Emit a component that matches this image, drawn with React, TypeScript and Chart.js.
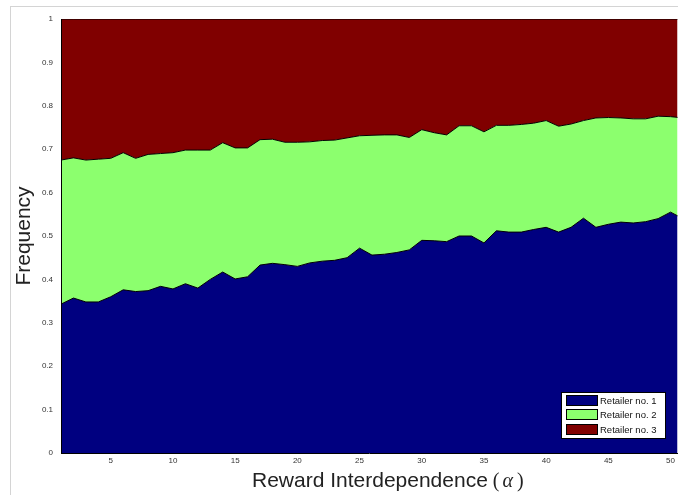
import React, { useEffect, useRef } from 'react';
import { Chart, registerables } from 'chart.js';

Chart.register(...registerables);

// Reward interdependence (alpha) values
const alphaValues = [
  1, 2, 3, 4, 5, 6, 7, 8, 9, 10,
  11, 12, 13, 14, 15, 16, 17, 18, 19, 20,
  21, 22, 23, 24, 25, 26, 27, 28, 29, 30,
  31, 32, 33, 34, 35, 36, 37, 38, 39, 40,
  41, 42, 43, 44, 45, 46, 47, 48, 49, 50, 51,
];

// Frequency of Retailer no. 1
const retailer1 = [
  0.343, 0.357, 0.348, 0.348, 0.36, 0.376, 0.372, 0.374, 0.384, 0.378,
  0.39, 0.38, 0.4, 0.417, 0.401, 0.406, 0.433, 0.437, 0.434, 0.43,
  0.438, 0.442, 0.444, 0.45, 0.472, 0.456, 0.458, 0.462, 0.468, 0.49,
  0.489, 0.487, 0.5, 0.5, 0.484, 0.512, 0.509, 0.509, 0.515, 0.52,
  0.509, 0.52, 0.541, 0.52, 0.527, 0.532, 0.53, 0.533, 0.54, 0.555, 0.54,
];

// Frequency of Retailer no. 2
const retailer2 = [
  0.332, 0.323, 0.327, 0.329, 0.319, 0.316, 0.307, 0.314, 0.306, 0.314,
  0.308, 0.318, 0.298, 0.298, 0.302, 0.297, 0.289, 0.286, 0.282, 0.286,
  0.279, 0.278, 0.277, 0.276, 0.259, 0.276, 0.275, 0.271, 0.259, 0.255,
  0.249, 0.246, 0.254, 0.254, 0.256, 0.243, 0.246, 0.248, 0.245, 0.246,
  0.244, 0.238, 0.225, 0.252, 0.246, 0.24, 0.24, 0.237, 0.236, 0.22, 0.232,
];

// Frequency of Retailer no. 3
const retailer3 = [
  0.325, 0.32, 0.325, 0.323, 0.321, 0.308, 0.321, 0.312, 0.31, 0.308,
  0.302, 0.302, 0.302, 0.285, 0.297, 0.297, 0.278, 0.277, 0.284, 0.284,
  0.283, 0.28, 0.279, 0.274, 0.269, 0.268, 0.267, 0.267, 0.273, 0.255,
  0.262, 0.267, 0.246, 0.246, 0.26, 0.245, 0.245, 0.243, 0.24, 0.234,
  0.247, 0.242, 0.234, 0.228, 0.227, 0.228, 0.23, 0.23, 0.224, 0.225, 0.228,
];

const seriesLabels = ['Retailer no. 1', 'Retailer no. 2', 'Retailer no. 3'];
const seriesColors = ['#000080', '#8cff6e', '#800000'];
const xTickValues = [5, 10, 15, 20, 25, 30, 35, 40, 45, 50];
const yTickLabels = ['0', '0.1', '0.2', '0.3', '0.4', '0.5', '0.6', '0.7', '0.8', '0.9', '1'];
const yTitle = 'Frequency';
const xTitle = 'Reward Interdependence';
const xTitleSymbol = 'α';

const SANS = '"Liberation Sans", Arial, Helvetica, sans-serif';

const boxLegend = {
  id: 'boxLegend',
  afterDraw(chart: any) {
    const { ctx, chartArea } = chart;
    const ds = chart.data.datasets;
    const w = 105;
    const rowH = 14.3;
    const h = 47;
    const x0 = Math.round(chartArea.right - 12 - w);
    const y0 = Math.round(chartArea.bottom - 14 - h);
    ctx.save();
    ctx.fillStyle = '#ffffff';
    ctx.fillRect(x0, y0, w, h);
    ctx.strokeStyle = '#000000';
    ctx.lineWidth = 1;
    ctx.strokeRect(x0 + 0.5, y0 + 0.5, w - 1, h - 1);
    ds.forEach((d: any, i: number) => {
      const sy = Math.round(y0 + 3 + i * rowH);
      ctx.fillStyle = d.backgroundColor;
      ctx.fillRect(x0 + 5, sy, 32, 11);
      ctx.strokeStyle = '#000000';
      ctx.strokeRect(x0 + 5.5, sy + 0.5, 31, 10);
      ctx.fillStyle = '#111111';
      ctx.font = '9.5px ' + SANS;
      ctx.textBaseline = 'middle';
      ctx.textAlign = 'left';
      ctx.fillText(d.label, x0 + 39, sy + 6);
    });
    ctx.restore();
  },
};

const xAxisTitle = {
  id: 'xAxisTitle',
  afterDraw(chart: any) {
    const { ctx, chartArea } = chart;
    const baseY = chartArea.bottom + 34;
    const startX = chartArea.left + 191;
    ctx.save();
    ctx.fillStyle = '#222222';
    ctx.textBaseline = 'alphabetic';
    ctx.textAlign = 'left';
    ctx.font = '21px ' + SANS;
    ctx.fillText(xTitle, startX, baseY);
    const w = ctx.measureText(xTitle).width;
    let x = startX + w + 5;
    ctx.font = '20px "Liberation Serif", "DejaVu Serif", serif';
    ctx.fillText('(', x, baseY);
    x += ctx.measureText('(').width + 3;
    ctx.font = 'italic 20px "Liberation Serif", "DejaVu Serif", serif';
    ctx.fillText(xTitleSymbol, x, baseY);
    x += ctx.measureText(xTitleSymbol).width + 4;
    ctx.font = '20px "Liberation Serif", "DejaVu Serif", serif';
    ctx.fillText(')', x, baseY);
    ctx.restore();
  },
};

export default function App() {
  const canvasRef = useRef<HTMLCanvasElement | null>(null);

  useEffect(() => {
    const canvas = canvasRef.current;
    if (!canvas) return;
    const series = [retailer1, retailer2, retailer3];
    const chart = new Chart(canvas, {
      type: 'line',
      data: {
        datasets: series.map((values, i) => ({
          label: seriesLabels[i],
          data: values.map((v, j) => ({ x: alphaValues[j], y: v })),
          backgroundColor: seriesColors[i],
          borderColor: '#000000',
          borderWidth: 1,
          pointRadius: 0,
          tension: 0,
          fill: i === 0 ? 'origin' : '-1',
        })),
      },
      options: {
        responsive: false,
        animation: false,
        devicePixelRatio: 1,
        layout: { padding: { top: 19, left: 0, right: 0, bottom: 0 } },
        plugins: {
          legend: { display: false },
          tooltip: { enabled: false },
        },
        scales: {
          x: {
            type: 'linear',
            min: 1,
            max: 50.56,
            afterBuildTicks: (scale: any) => {
              scale.ticks = xTickValues.map((v) => ({ value: v }));
            },
            afterFit: (scale: any) => {
              scale.height = 42;
            },
            grid: { display: false, drawTicks: false, tickLength: 0 },
            border: { display: true, color: '#000000', width: 1, z: 1 },
            ticks: {
              padding: 3,
              color: '#333333',
              font: { family: SANS, size: 8 },
              maxRotation: 0,
              autoSkip: false,
              callback: (v: any) => String(v),
            },
          },
          y: {
            type: 'linear',
            stacked: true,
            min: 0,
            max: 1,
            afterFit: (scale: any) => {
              scale.width = 61;
            },
            grid: { display: false, drawTicks: false, tickLength: 0 },
            border: { display: true, color: '#000000', width: 1, z: 1 },
            ticks: {
              stepSize: 0.1,
              padding: 8,
              color: '#333333',
              font: { family: SANS, size: 8 },
              callback: (_v: any, idx: number) => yTickLabels[idx],
            },
            title: {
              display: true,
              text: yTitle,
              color: '#222222',
              font: { family: SANS, size: 21 },
              padding: { top: 12, bottom: 0 },
            },
          },
        },
      },
      plugins: [boxLegend, xAxisTitle],
    });
    return () => chart.destroy();
  }, []);

  return (
    <div style={{ position: 'fixed', left: 0, top: 0, width: 678, height: 495, background: '#ffffff' }}>
      <div
        style={{
          position: 'absolute',
          left: 10,
          top: 6,
          width: 668,
          height: 489,
          borderTop: '1px solid #d4d4d4',
          borderLeft: '1px solid #d4d4d4',
        }}
      />
      <canvas
        ref={canvasRef}
        width={678}
        height={495}
        style={{ position: 'absolute', left: 0, top: 0, width: 678, height: 495 }}
      />
    </div>
  );
}
